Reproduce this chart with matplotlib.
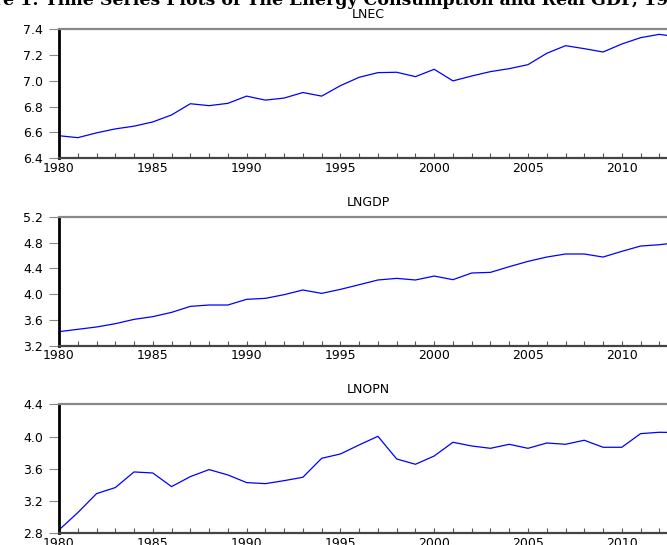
import matplotlib
matplotlib.use("Agg")
import matplotlib.pyplot as plt
from matplotlib.ticker import MultipleLocator, FormatStrFormatter

years = list(range(1980, 2014))

lnec = [6.575, 6.560, 6.597, 6.628, 6.649, 6.682, 6.736, 6.823, 6.808, 6.826,
        6.882, 6.851, 6.867, 6.910, 6.882, 6.963, 7.028, 7.064, 7.067, 7.033,
        7.090, 7.000, 7.038, 7.072, 7.095, 7.126, 7.214, 7.273, 7.250, 7.224,
        7.286, 7.335, 7.361, 7.340]

lngdp = [3.422, 3.458, 3.494, 3.545, 3.612, 3.654, 3.720, 3.813, 3.834, 3.834,
         3.922, 3.937, 3.994, 4.066, 4.014, 4.076, 4.148, 4.221, 4.246, 4.221,
         4.282, 4.226, 4.329, 4.339, 4.427, 4.509, 4.576, 4.623, 4.623, 4.576,
         4.664, 4.746, 4.767, 4.800]

lnopn = [2.842, 3.056, 3.292, 3.367, 3.561, 3.548, 3.379, 3.503, 3.590, 3.524,
         3.429, 3.416, 3.453, 3.495, 3.730, 3.784, 3.896, 4.003, 3.722, 3.656,
         3.759, 3.929, 3.883, 3.854, 3.904, 3.854, 3.920, 3.904, 3.954, 3.867,
         3.867, 4.036, 4.053, 4.050]

series = [("LNEC", lnec, (6.4, 7.4), 0.2),
          ("LNGDP", lngdp, (3.2, 5.2), 0.4),
          ("LNOPN", lnopn, (2.8, 4.4), 0.4)]

fig_title = "Figure 1: Time Series Plots of The Energy Consumption and Real GDP, 1980-2013"

W, H = 667, 545
fig = plt.figure(figsize=(W / 100, H / 100), dpi=100)
plt.rcParams['font.family'] = ['DejaVu Sans']

# axes boxes in pixels (top, bottom) -- the picture is a crop, so the right edge runs off
boxes = [(29.3, 158.3), (216.7, 346.0), (404.3, 533.3)]
left_px = 59
width_px = 33 * 18.76

for (name, vals, ylim, step), (top, bot) in zip(series, boxes):
    ax = fig.add_axes([left_px / W, 1 - bot / H, width_px / W, (bot - top) / H])
    ax.plot(years, vals, color='#0000ff', lw=0.9)
    ax.set_xlim(1980, 2013)
    ax.set_ylim(*ylim)
    ax.xaxis.set_major_locator(MultipleLocator(5))
    ax.xaxis.set_minor_locator(MultipleLocator(1))
    ax.yaxis.set_major_locator(MultipleLocator(step))
    ax.yaxis.set_major_formatter(FormatStrFormatter('%.1f'))
    ax.tick_params(axis='x', which='both', direction='in', length=3.5, width=0.8,
                   color='#555555', labelsize=9, pad=2.5, top=False)
    ax.tick_params(axis='y', which='both', direction='out', length=7.5, width=0.8,
                   color='#888888', labelsize=9, pad=4, right=False)
    ax.spines['left'].set_linewidth(2.0)
    ax.spines['left'].set_color('black')
    ax.spines['top'].set_linewidth(1.6)
    ax.spines['top'].set_color('#888888')
    ax.spines['bottom'].set_linewidth(1.6)
    ax.spines['bottom'].set_color('#444444')
    ax.spines['right'].set_visible(False)
    ax.set_title(name, fontsize=9, pad=8.0)

fig.text(-0.075, 0.991, fig_title, ha='left', va='baseline',
         fontsize=12.5, fontweight='bold', family='DejaVu Serif')

fig.savefig('out.png', dpi=100)
